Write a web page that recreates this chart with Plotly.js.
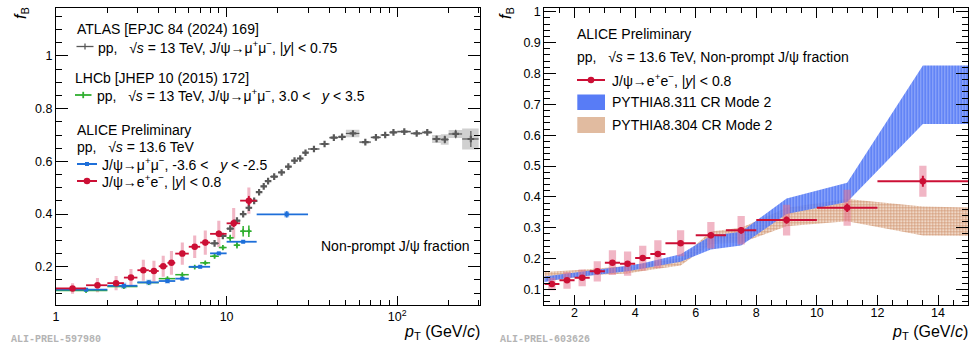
<!DOCTYPE html>
<html><head><meta charset="utf-8">
<script src="https://cdn.plot.ly/plotly-3.0.1.min.js"></script>
<style>html,body{margin:0;padding:0;background:#fff;} #chart{width:972px;height:347px;}</style>
</head><body><div id="chart"></div>
<script>
// ---------------- DATA ----------------
// ALICE J/psi -> e+e-, |y|<0.8 (pp 13.6 TeV)
const eeLo   = [1,1.5,2,2.5,3,3.5,4,4.5,5,6,7,8,10,12];
const eeHi   = [1.5,2,2.5,3,3.5,4,4.5,5,6,7,8,10,12,15];
const eePt   = [1.25,1.75,2.25,2.75,3.25,3.75,4.25,4.75,5.5,6.5,7.5,9,11,13.5];
const eeF    = [0.118,0.130,0.138,0.159,0.187,0.184,0.202,0.215,0.250,0.276,0.292,0.325,0.365,0.451];
const eeStat = [0.004,0.005,0.005,0.006,0.007,0.007,0.008,0.008,0.009,0.010,0.011,0.012,0.014,0.018];
const eeSys  = [0.020,0.027,0.027,0.033,0.040,0.039,0.040,0.045,0.042,0.043,0.046,0.050,0.058,0.050];

// ALICE J/psi -> mu+mu-, -3.6<y<-2.5
const mmLo   = [1,2,3,4,5,6,8,10,15];
const mmHi   = [2,3,4,5,6,8,10,15,30];
const mmPt   = [1.5,2.5,3.5,4.5,5.5,7,9,12.5,22.5];
const mmF    = [0.113,0.128,0.141,0.146,0.155,0.200,0.251,0.295,0.399];
const mmStat = [0.002,0.003,0.003,0.003,0.003,0.003,0.004,0.005,0.012];
const mmSys  = [0.006,0.012,0.011,0.010,0.006,0.005,0.005,0.005,0.012];

// LHCb 13 TeV, 3.0<y<3.5
const lhLo  = [1,2,3,4,5,6,7,8,9,10,11,12,13];
const lhHi  = [2,3,4,5,6,7,8,9,10,11,12,13,14];
const lhPt  = [1.5,2.5,3.5,4.5,5.5,6.5,7.5,8.5,9.5,10.5,11.5,12.5,13.5];
const lhF   = [0.110,0.125,0.140,0.155,0.170,0.199,0.215,0.240,0.273,0.310,0.282,0.335,0.335];
const lhErr = [0.003,0.004,0.004,0.005,0.006,0.006,0.007,0.008,0.010,0.012,0.013,0.020,0.022];

// ATLAS 13 TeV, |y|<0.75
const atLo  = [8,9,10,11,12,13,14,15,16,17,18,20,22,24,26,28,30,35,40,45,50,60,70,80,90,100,120,140,160,180,200,240];
const atHi  = [9,10,11,12,13,14,15,16,17,18,20,22,24,26,28,30,35,40,45,50,60,70,80,90,100,120,140,160,180,200,240,300];
const atPt  = [8.5,9.5,10.5,11.5,12.5,13.5,14.5,15.5,16.5,17.5,19,21,23,25,27,29,32.5,37.5,42.5,47.5,55,65,75,85,95,110,130,150,170,190,220,270];
const atF   = [0.289,0.317,0.345,0.375,0.400,0.424,0.450,0.483,0.505,0.525,0.542,0.558,0.580,0.603,0.611,0.633,0.647,0.666,0.690,0.693,0.706,0.673,0.691,0.700,0.710,0.713,0.706,0.710,0.685,0.683,0.704,0.685];
const atStat= [0.003,0.003,0.003,0.003,0.003,0.003,0.003,0.003,0.003,0.003,0.003,0.003,0.003,0.003,0.003,0.004,0.004,0.004,0.004,0.005,0.005,0.005,0.006,0.006,0.007,0.007,0.008,0.009,0.012,0.014,0.016,0.030];
const atSys = [0.003,0.003,0.003,0.003,0.003,0.003,0.003,0.003,0.003,0.003,0.003,0.003,0.003,0.003,0.003,0.003,0.003,0.004,0.004,0.004,0.014,0.004,0.004,0.004,0.005,0.005,0.005,0.006,0.015,0.020,0.015,0.040];

// PYTHIA bands (right panel)
const pyPt     = [1,1.25,1.75,2.25,2.75,3.25,3.75,4.25,4.75,5.5,6.5,7.5,9,11,13.5,15];
const py311Mid = [0.133,0.137,0.145,0.151,0.157,0.162,0.168,0.176,0.186,0.202,0.252,0.265,0.370,0.415,0.731,0.731];
const py311Err = [0.009,0.008,0.008,0.008,0.008,0.008,0.009,0.009,0.010,0.012,0.022,0.022,0.025,0.031,0.095,0.095];
const py304Mid = [0.142,0.144,0.148,0.153,0.158,0.161,0.164,0.172,0.180,0.190,0.268,0.276,0.335,0.357,0.322,0.320];
const py304Err = [0.015,0.014,0.012,0.011,0.010,0.011,0.012,0.012,0.012,0.012,0.020,0.024,0.030,0.036,0.047,0.046];

// tick labels
const xTicksLeft = [1,10,100];
const xTickTextLeft = ['1','10','10<sup>2</sup>'];
const xMinorLeft = [2,3,4,5,6,7,8,9,20,30,40,50,60,70,80,90,200,300];
const yTicksLeft = [0.2,0.4,0.6,0.8,1];
const yTickTextLeft = ['0.2','0.4','0.6','0.8','1'];

// ---------------- STYLE / HELPERS ----------------
const F = 'Liberation Sans, Arial, Helvetica, sans-serif';
const RED = '#cc0f35', BLUE = '#1e6fd9', GREEN = '#2fae2f', GRAY = '#585858';
const W = 972, H = 347;
const P = px => px / W, Q = py => 1 - py / H;

function boxes(x0s, x1s, ys, ss) {
  const X = [], Y = [];
  for (let i = 0; i < ys.length; i++) {
    X.push(x0s[i], x1s[i], x1s[i], x0s[i], x0s[i], null);
    Y.push(ys[i]-ss[i], ys[i]-ss[i], ys[i]+ss[i], ys[i]+ss[i], ys[i]-ss[i], null);
  }
  return {X, Y};
}
function logBox(xs, ys, ss, hw, xa, ya, color) {
  const b = boxes(xs.map(v => v*Math.pow(10,-hw)), xs.map(v => v*Math.pow(10,hw)), ys, ss);
  return {x:b.X, y:b.Y, xaxis:xa, yaxis:ya, mode:'lines', fill:'toself', fillcolor:color, line:{width:0}, hoverinfo:'skip', showlegend:false};
}
function linBox(x0s, x1s, ys, ss, xa, ya, color) {
  const b = boxes(x0s, x1s, ys, ss);
  return {x:b.X, y:b.Y, xaxis:xa, yaxis:ya, mode:'lines', fill:'toself', fillcolor:color, line:{width:0}, hoverinfo:'skip', showlegend:false};
}
function pts(x, y, lo, hi, ey, xa, ya, color, sym, size, thick) {
  return {x, y, xaxis:xa, yaxis:ya, mode:'markers', type:'scatter', showlegend:false,
    marker:{symbol:sym, size:size, color:color, line:{width:0}},
    error_x:{type:'data', symmetric:false, array:hi.map((v,i)=>v-x[i]), arrayminus:lo.map((v,i)=>x[i]-v), width:0, thickness:thick, color:color},
    error_y:{type:'data', array:ey, width:0, thickness:thick, color:color}};
}
function band(x, mid, err, xa, ya, fill, pat) {
  const X = x.concat(x.slice().reverse());
  const Y = mid.map((m,i)=>m+err[i]).concat(mid.map((m,i)=>m-err[i]).reverse());
  return {x:X, y:Y, xaxis:xa, yaxis:ya, mode:'lines', fill:'toself', fillcolor:fill, fillpattern:pat, line:{width:0}, hoverinfo:'skip', showlegend:false};
}

const traces = [
  // left panel
  linBox(atLo, atHi, atF, atSys, 'x', 'y', 'rgba(170,170,170,0.55)'),
  logBox(mmPt, mmF, mmSys, 0.015, 'x', 'y', 'rgba(110,165,235,0.45)'),
  logBox(eePt, eeF, eeSys, 0.009, 'x', 'y', 'rgba(228,110,140,0.5)'),
  pts(atPt, atF, atLo, atHi, atStat, 'x', 'y', GRAY, 'cross', 5.5, 1.2),
  pts(lhPt, lhF, lhLo, lhHi, lhErr, 'x', 'y', GREEN, 'cross', 4, 1.5),
  pts(mmPt, mmF, mmLo, mmHi, mmStat, 'x', 'y', BLUE, 'square', 4, 1.8),
  pts(eePt, eeF, eeLo, eeHi, eeStat, 'x', 'y', RED, 'circle', 6.5, 1.8),
  // right panel
  band(pyPt, py304Mid, py304Err, 'x2', 'y2', 'rgba(226,190,165,0.85)',
       {shape:'+', size:3, solidity:0.35, fgcolor:'#c47d52', fgopacity:0.8, bgcolor:'rgba(236,208,188,0.85)'}),
  band(pyPt, py311Mid, py311Err, 'x2', 'y2', 'rgba(70,110,245,0.85)',
       {shape:'|', size:3, solidity:0.3, fgcolor:'#dfe6ff', fgopacity:0.45, bgcolor:'rgba(70,110,245,0.85)'}),
  linBox(eePt.map(v=>v-0.12), eePt.map(v=>v+0.12), eeF, eeSys, 'x2', 'y2', 'rgba(228,110,140,0.5)'),
  pts(eePt, eeF, eeLo, eeHi, eeStat, 'x2', 'y2', RED, 'circle', 6.5, 2)
];

const axBase = {showline:true, linecolor:'#000', linewidth:1, mirror:'allticks', ticks:'inside', tickcolor:'#000',
  showgrid:false, zeroline:false, tickfont:{family:F, size:12.5, color:'#000'}, fixedrange:true};

const layout = {
  width:W, height:H, margin:{l:0,r:0,t:0,b:0}, paper_bgcolor:'#fff', plot_bgcolor:'#fff', showlegend:false,
  xaxis: Object.assign({}, axBase, {type:'log', range:[0, 2.485], domain:[56/W, 480/W], anchor:'y',
    tickmode:'array', tickvals:xTicksLeft, ticktext:xTickTextLeft, ticklen:9,
    minor:{tickmode:'array', tickvals:xMinorLeft, ticklen:5, ticks:'inside', tickcolor:'#000'}}),
  yaxis: Object.assign({}, axBase, {range:[0.055, 1.182], domain:[42/H, 339/H], anchor:'x',
    tickmode:'array', tickvals:yTicksLeft, ticktext:yTickTextLeft, ticklen:12,
    minor:{dtick:0.05, tick0:0, ticklen:6, ticks:'inside', tickcolor:'#000'}}),
  xaxis2: Object.assign({}, axBase, {range:[1, 15], domain:[544.3/W, 968.3/W], anchor:'y2',
    tick0:0, dtick:2, ticklen:10, ticklabelstandoff:-4,
    minor:{dtick:0.5, tick0:0, ticklen:5, ticks:'inside', tickcolor:'#000'}}),
  yaxis2: Object.assign({}, axBase, {range:[0.05, 1.011], domain:[42/H, 338.7/H], anchor:'x2',
    tick0:0, dtick:0.1, ticklen:12, minor:{dtick:0.02, tick0:0, ticklen:6, ticks:'inside', tickcolor:'#000'}}),
  annotations: [], shapes: []
};

function ann(text, px, py, o) {
  return Object.assign({xref:'paper', yref:'paper', x:P(px), y:Q(py), text:text, showarrow:false,
    xanchor:'left', yanchor:'middle', borderpad:0, font:{family:F, size:14, color:'#000'}}, o||{});
}
const sp = '\u00a0';
const A = layout.annotations;
// left panel texts
A.push(ann('ATLAS [EPJC 84 (2024) 169]', 75.5, 28.5));
A.push(ann('pp,'+sp+sp+sp+'√<i>s</i> = 13 TeV, J/ψ→μ<sup>+</sup>μ<sup>−</sup>, |<i>y</i>| &lt; 0.75', 97, 46.5));
A.push(ann('LHCb [JHEP 10 (2015) 172]', 73.5, 77.5));
A.push(ann('pp,'+sp+sp+sp+'√<i>s</i> = 13 TeV, J/ψ→μ<sup>+</sup>μ<sup>−</sup>, 3.0 &lt;'+sp+sp+sp+'<i>y</i> &lt; 3.5', 95.5, 95));
A.push(ann('ALICE Preliminary', 75.5, 130));
A.push(ann('pp,'+sp+sp+sp+'√<i>s</i> = 13.6 TeV', 75.5, 147));
A.push(ann('J/ψ→μ<sup>+</sup>μ<sup>−</sup>, -3.6 &lt;'+sp+sp+sp+'<i>y</i> &lt; -2.5', 100.5, 164));
A.push(ann('J/ψ→e<sup>+</sup>e<sup>−</sup>, |<i>y</i>| &lt; 0.8', 100.5, 181));
A.push(ann('Non-prompt J/ψ fraction', 470, 246, {xanchor:'right'}));
A.push(ann('<i>f</i><sub>B</sub>', 22, 13, {xanchor:'center', textangle:-90, font:{family:F, size:16, color:'#000'}}));
A.push(ann('<i>p</i><sub>T</sub> (GeV/<i>c</i>)', 481, 332, {xanchor:'right', font:{family:F, size:16, color:'#000'}}));
A.push(ann('ALI-PREL-597980', 10, 339, {font:{family:'Liberation Mono, Courier New, monospace', size:10, color:'#b4b4b4', weight:'bold'}}));
// right panel texts
A.push(ann('ALICE Preliminary', 576, 33.5));
A.push(ann('pp,'+sp+sp+sp+'√<i>s</i> = 13.6 TeV, Non-prompt J/ψ fraction', 576, 57));
A.push(ann('J/ψ→e<sup>+</sup>e<sup>−</sup>, |<i>y</i>| &lt; 0.8', 611, 80));
A.push(ann('PYTHIA8.311 CR Mode 2', 611, 102.5));
A.push(ann('PYTHIA8.304 CR Mode 2', 611, 125));
A.push(ann('<i>f</i><sub>B</sub>', 507, 13, {xanchor:'center', textangle:-90, font:{family:F, size:16, color:'#000'}}));
A.push(ann('<i>p</i><sub>T</sub> (GeV/<i>c</i>)', 969, 332, {xanchor:'right', font:{family:F, size:16, color:'#000'}}));
A.push(ann('ALI-PREL-603626', 499, 339, {font:{family:'Liberation Mono, Courier New, monospace', size:10, color:'#b4b4b4', weight:'bold'}}));

// legend sample glyphs
const S = layout.shapes;
function ln(x0,y0,x1,y1,c,w){ S.push({type:'line', xref:'paper', yref:'paper', x0:P(x0), y0:Q(y0), x1:P(x1), y1:Q(y1), line:{color:c, width:w}}); }
function rc(x0,y0,x1,y1,fc){ S.push({type:'rect', xref:'paper', yref:'paper', x0:P(x0), y0:Q(y0), x1:P(x1), y1:Q(y1), fillcolor:fc, line:{width:0}}); }
function dot(cx,cy,r,c){ S.push({type:'circle', xref:'paper', yref:'paper', x0:P(cx-r), y0:Q(cy+r), x1:P(cx+r), y1:Q(cy-r), fillcolor:c, line:{width:0}}); }
ln(76.5,46.5,93.5,46.5,GRAY,1.3); ln(85,43.5,85,49.5,GRAY,1.3);
ln(75,95,91.5,95,GREEN,1.8); ln(83.2,91.8,83.2,98.2,GREEN,1.8);
ln(77,164,97,164,BLUE,2); rc(85,162,89,166,BLUE);
ln(77,181,97,181,RED,2); dot(87,181,3.3,RED);
ln(577,80,605,80,RED,2); dot(591,80,3.3,RED);
rc(577.3,94.5,605,110,'rgba(70,110,245,0.9)');
rc(577.3,117,605,133,'rgba(222,180,150,0.9)');

Plotly.newPlot('chart', traces, layout, {staticPlot:true, displayModeBar:false});
</script>
</body></html>
